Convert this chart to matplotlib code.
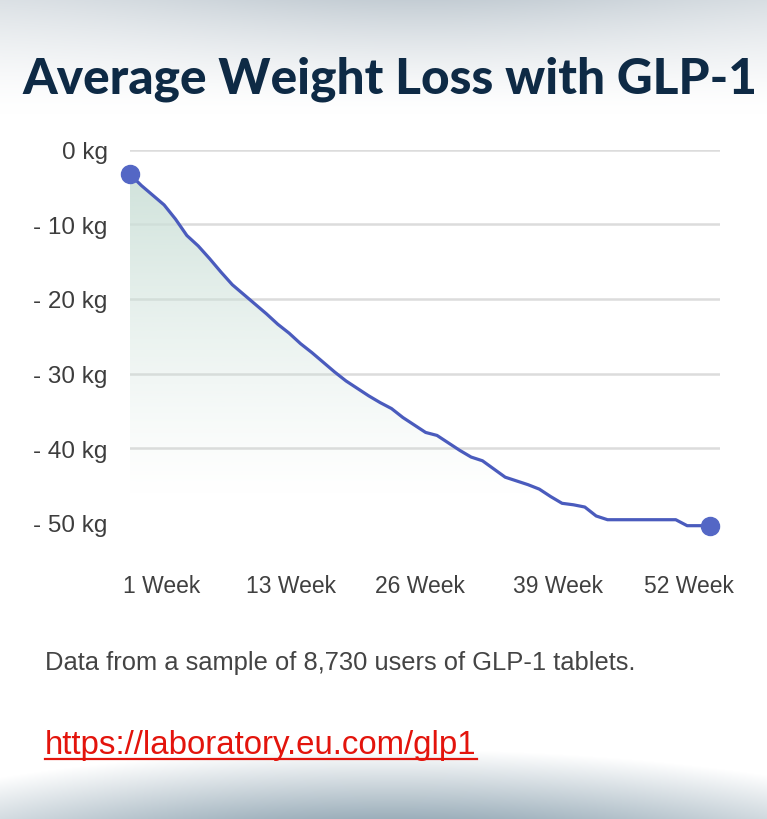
import numpy as np
import matplotlib
matplotlib.use("Agg")
import matplotlib.pyplot as plt
from matplotlib import font_manager
from matplotlib.lines import Line2D

# weekly average weight change (kg)
weeks = list(range(1, 53))
loss_kg = [-3.3, -4.8, -6.1, -7.4, -9.3, -11.5, -12.9, -14.6, -16.4, -18.1,
           -19.4, -20.7, -22.0, -23.4, -24.6, -26.0, -27.2, -28.5, -29.8, -31.0,
           -32.0, -33.0, -33.9, -34.7, -35.9, -36.9, -37.9, -38.3, -39.3, -40.3,
           -41.2, -41.7, -42.8, -43.9, -44.4, -44.9, -45.5, -46.5, -47.4, -47.6,
           -47.9, -49.1, -49.6, -49.6, -49.6, -49.6, -49.6, -49.6, -49.6, -50.4,
           -50.4, -50.4]
y_ticks = [0, -10, -20, -30, -40, -50]
y_tick_labels = ["0 kg", "- 10 kg", "- 20 kg", "- 30 kg", "- 40 kg", "- 50 kg"]
x_tick_labels = ["1 Week", "13 Week", "26 Week", "39 Week", "52 Week"]
x_tick_pos = [3.8, 15.2, 26.5, 38.6, 50.2]

title = "Average Weight Loss with GLP-1"
note = "Data from a sample of 8,730 users of GLP-1 tablets."
url = "https://laboratory.eu.com/glp1"

W, H = 767, 820
plt.rcParams["font.family"] = ["Liberation Sans", "DejaVu Sans"]
fig = plt.figure(figsize=(W / 100, H / 100), dpi=100)

# background: grey haze at top, dark vignette at bottom
yy, xx = np.mgrid[0:H, 0:W].astype(float)
f_top = np.clip(1 - yy / 115, 0, 1) ** 1.5 * (0.55 + 0.45 * np.exp(-((xx - 420) / 300) ** 2))
d = np.sqrt(((xx - 390) / 650) ** 2 + ((yy - 890) / 140) ** 2)
f_bot = np.clip((1 - d) / 0.5, 0, 1)
bg = np.ones((H, W, 3))
top_col = np.array([196, 205, 212]) / 255
bot_col = np.array([155, 174, 186]) / 255
bg = bg * (1 - f_top[..., None]) + top_col * f_top[..., None]
bg = bg * (1 - f_bot[..., None]) + bot_col * f_bot[..., None]
bax = fig.add_axes([0, 0, 1, 1], zorder=-5)
bax.imshow(bg, aspect="auto", extent=[0, W, H, 0])
bax.axis("off")

# main chart, placed in pixel terms
px_per_week = 11.37
x_left, x_right = 130, 720
y_top, y_bot = 150.7, 523.7
ax = fig.add_axes([x_left / W, 1 - y_bot / H, (x_right - x_left) / W, (y_bot - y_top) / H])
ax.set_facecolor("none")
ax.set_xlim(1, 1 + (x_right - x_left) / px_per_week)
ax.set_ylim(-50, 0)

# gradient fill under the curve
poly = ax.fill_between(weeks, loss_kg, -50, color="none", lw=0)
grad = np.zeros((200, 1, 4))
t = np.linspace(0, 1, 200)[:, None]
grad[..., 0] = 0.80
grad[..., 1] = 0.88
grad[..., 2] = 0.85
grad[..., 3] = np.clip(1 - t / 0.93, 0, 1) ** 1.2
im = ax.imshow(grad, aspect="auto", extent=[1, weeks[-1], -50, 0], zorder=1)
im.set_clip_path(poly.get_paths()[0], transform=ax.transData)

ax.plot(weeks, loss_kg, color="#4a5bbd", lw=2.3, solid_joinstyle="round",
        clip_on=False, zorder=3)
ax.plot([weeks[0], weeks[-1]], [loss_kg[0], loss_kg[-1]], "o", ms=13,
        color="#5467c5", clip_on=False, zorder=4)

ax.set_yticks(y_ticks)
ax.set_yticklabels(y_tick_labels)
ax.set_xticks(x_tick_pos)
ax.set_xticklabels(x_tick_labels)
ax.tick_params(axis="y", length=0, pad=16, labelsize=17.5, labelcolor="#3d3d3d")
ax.tick_params(axis="x", length=0, pad=37, labelsize=16.5, labelcolor="#404040")
ax.yaxis.grid(True, color="#dcdcdc", lw=1.8, zorder=0)
ax.get_ygridlines()[-1].set_visible(False)
ax.set_axisbelow(True)
for s in ax.spines.values():
    s.set_visible(False)

renderer = fig.canvas.get_renderer()


def fit_text(txt, width_px, **kw):
    # scale font size so the text spans the same width as in the reference
    t = fig.text(s=txt, **kw)
    bb = t.get_window_extent(renderer)
    t.set_fontsize(t.get_fontsize() * width_px / bb.width)
    return t


names = {f.name for f in font_manager.fontManager.ttflist}
title_family = ["Lato", "Liberation Sans"] if "Lato" in names else ["Liberation Sans"]
fit_text(title, 736, x=22 / W, y=1 - 93 / H, fontsize=34, fontweight="black",
         family=title_family, color="#0e2a45", ha="left", va="baseline")
fit_text(note, 590, x=45 / W, y=1 - 670 / H, fontsize=17, color="#444444",
         ha="left", va="baseline")
u = fit_text(url, 431, x=45 / W, y=1 - 754 / H, fontsize=20, color="#e3140c",
             ha="left", va="baseline")
bb = u.get_window_extent(renderer)
fig.add_artist(Line2D([bb.x0 / W, bb.x1 / W], [1 - 760 / H] * 2, color="#e3140c", lw=1.6))

fig.savefig("out.png", dpi=100)
